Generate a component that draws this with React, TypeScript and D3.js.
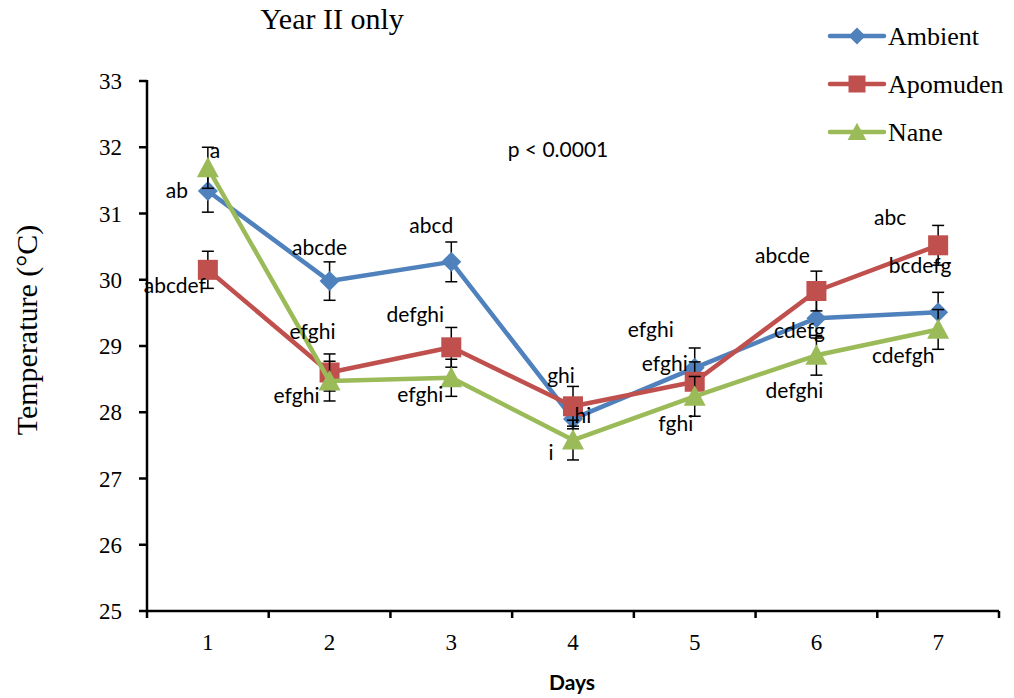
import * as d3 from "d3";
import React from "react";

// data
const days = [1, 2, 3, 4, 5, 6, 7];
const yTicks = [25, 26, 27, 28, 29, 30, 31, 32, 33];
const seriesNames = ["Ambient", "Apomuden", "Nane"];
const colours = ["#4F81BD", "#C0504D", "#9BBB59"];
const markers = ["diamond", "square", "triangle"];

const ambient = [31.34, 29.98, 30.27, 27.9, 28.67, 29.42, 29.51];
const apomuden = [30.15, 28.6, 28.98, 28.09, 28.46, 29.83, 30.52];
const nane = [31.69, 28.47, 28.52, 27.58, 28.24, 28.86, 29.25];

const ambientErr = [0.32, 0.29, 0.3, 0.15, 0.3, 0.3, 0.3];
const apomudenErr = [0.28, 0.28, 0.3, 0.3, 0.3, 0.3, 0.3];
const naneErr = [0.31, 0.3, 0.28, 0.3, 0.3, 0.3, 0.3];

// significance letters: [series index, day, text]
const letters: [number, number, string][] = [
  [2, 1, "a"],
  [0, 1, "ab"],
  [1, 1, "abcdef"],
  [0, 2, "abcde"],
  [1, 2, "efghi"],
  [2, 2, "efghi"],
  [0, 3, "abcd"],
  [1, 3, "defghi"],
  [2, 3, "efghi"],
  [1, 4, "ghi"],
  [0, 4, "hi"],
  [2, 4, "i"],
  [0, 5, "efghi"],
  [1, 5, "efghi"],
  [2, 5, "fghi"],
  [1, 6, "abcde"],
  [0, 6, "cdefg"],
  [2, 6, "defghi"],
  [1, 7, "abc"],
  [0, 7, "bcdefg"],
  [2, 7, "cdefgh"],
];
// pixel nudges for the letters, same order as above
const letterOffsets = [
  [7, -10], [-31, 7], [-33, 23],
  [-10, -26], [-17, -34], [-33, 22],
  [-20, -29], [-36, -25], [-31, 24],
  [-12, -23], [10, 4], [-22, 20],
  [-44, -31], [-30, -11], [-19, 35],
  [-34, -28], [-17, 20], [-22, 43],
  [-48, -20], [-18, -39], [-35, 34],
];

const W = 1014;
const H = 698;
const left = 147;
const right = 999;
const top = 81;
const bottom = 611;

function Marker({ type, x, y, color, s = 1 }) {
  if (type === "diamond") {
    const r = 10 * s;
    return (
      <path
        d={`M${x},${y - r}L${x + r},${y}L${x},${y + r}L${x - r},${y}Z`}
        fill={color}
      />
    );
  }
  if (type === "square") {
    const r = 10 * s;
    return <rect x={x - r} y={y - r} width={2 * r} height={2 * r} fill={color} />;
  }
  const r = 11 * s;
  return (
    <path
      d={`M${x},${y - r}L${x + r},${y + r * 0.85}L${x - r},${y + r * 0.85}Z`}
      fill={color}
    />
  );
}

export default function App() {
  const values = [ambient, apomuden, nane];
  const errors = [ambientErr, apomudenErr, naneErr];

  const x = d3.scaleBand<number>().domain(days).range([left, right]).paddingInner(0).paddingOuter(0);
  const cx = (d: number) => (x(d) ?? 0) + x.bandwidth() / 2;
  const y = d3.scaleLinear().domain([25, 33]).range([bottom, top]);

  const line = d3
    .line<number>()
    .x((_, i) => cx(days[i]))
    .y((v) => y(v));

  const serif = "'Liberation Serif', 'Times New Roman', serif";
  const sans = "Lato, 'Liberation Sans', sans-serif";

  return (
    <svg
      width={W}
      height={H}
      style={{ position: "absolute", left: 0, top: 0, background: "#fff" }}
    >
      {/* title */}
      <text x={332} y={29} textAnchor="middle" fontFamily={serif} fontSize={30}>
        Year II only
      </text>

      {/* series */}
      {values.map((vals, si) => (
        <g key={seriesNames[si]}>
          {vals.map((v, i) => {
            const e = errors[si][i];
            const px = cx(days[i]);
            return (
              <g key={i} stroke="#000" strokeWidth={1.5}>
                <line x1={px} x2={px} y1={y(v + e)} y2={y(v - e)} />
                <line x1={px - 6} x2={px + 6} y1={y(v + e)} y2={y(v + e)} />
                <line x1={px - 6} x2={px + 6} y1={y(v - e)} y2={y(v - e)} />
              </g>
            );
          })}
          <path
            d={line(vals) ?? ""}
            fill="none"
            stroke={colours[si]}
            strokeWidth={4.5}
            strokeLinejoin="round"
          />
          {vals.map((v, i) => (
            <Marker key={i} type={markers[si]} x={cx(days[i])} y={y(v)} color={colours[si]} />
          ))}
        </g>
      ))}

      {/* letters */}
      {letters.map(([si, d, t], i) => (
        <text
          key={i}
          x={cx(d) + letterOffsets[i][0]}
          y={y(values[si][d - 1]) + letterOffsets[i][1]}
          textAnchor="middle"
          fontFamily={sans}
          fontSize={21}
        >
          {t}
        </text>
      ))}

      <text x={558} y={157} textAnchor="middle" fontFamily={sans} fontSize={21}>
        p &lt; 0.0001
      </text>

      {/* axes */}
      <g stroke="#000" strokeWidth={2.5}>
        <line x1={left} x2={left} y1={top - 1} y2={bottom + 1} />
        <line x1={left - 1} x2={right} y1={bottom} y2={bottom} />
        {yTicks.map((t) => (
          <line key={t} x1={left - 8} x2={left} y1={y(t)} y2={y(t)} />
        ))}
        {d3.range(days.length + 1).map((i) => {
          const px = left + i * x.bandwidth();
          return <line key={i} x1={px} x2={px} y1={bottom} y2={bottom + 7} />;
        })}
      </g>
      {yTicks.map((t) => (
        <text
          key={t}
          x={122}
          y={y(t) + 8}
          textAnchor="end"
          fontFamily={serif}
          fontSize={23}
        >
          {t}
        </text>
      ))}
      {days.map((d) => (
        <text
          key={d}
          x={cx(d)}
          y={650}
          textAnchor="middle"
          fontFamily={serif}
          fontSize={23}
        >
          {d}
        </text>
      ))}

      <text
        x={572}
        y={690}
        textAnchor="middle"
        fontFamily={sans}
        fontWeight="bold"
        fontSize={21}
      >
        Days
      </text>
      <text
        transform={`translate(37, ${(top + bottom) / 2 - 16}) rotate(-90)`}
        textAnchor="middle"
        fontFamily={serif}
        fontSize={30}
      >
        Temperature (°C)
      </text>

      {/* legend */}
      {seriesNames.map((name, si) => {
        const ly = 36 + si * 48;
        return (
          <g key={name}>
            <line x1={830} x2={884} y1={ly} y2={ly} stroke={colours[si]} strokeWidth={4.5} strokeLinecap="round" />
            <Marker type={markers[si]} x={857} y={ly} color={colours[si]} s={0.85} />
            <text x={888} y={ly + 9} fontFamily={serif} fontSize={26}>
              {name}
            </text>
          </g>
        );
      })}
    </svg>
  );
}
